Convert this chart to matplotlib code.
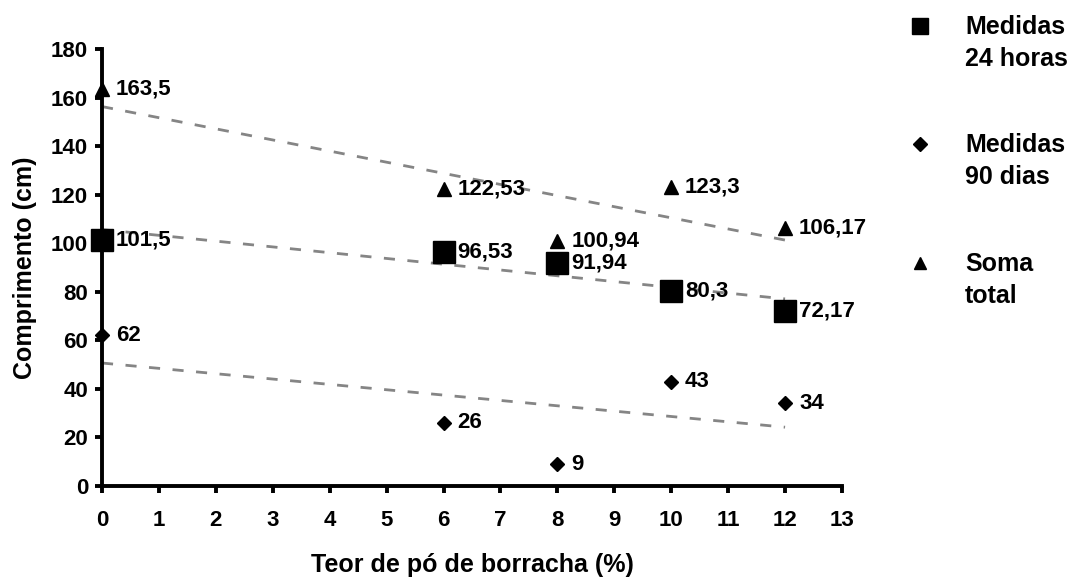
import matplotlib
matplotlib.use("Agg")
import matplotlib.pyplot as plt
import numpy as np
from matplotlib.lines import Line2D

plt.rcParams['font.family'] = ['Liberation Sans', 'DejaVu Sans']
plt.rcParams['font.weight'] = 'bold'

x_vals = [0, 6, 8, 10, 12]
medidas_24h = [101.5, 96.53, 91.94, 80.3, 72.17]
medidas_90d = [62, 26, 9, 43, 34]
soma_total = [163.5, 122.53, 100.94, 123.3, 106.17]

labels_24h = ["101,5", "96,53", "91,94", "80,3", "72,17"]
labels_90d = ["62", "26", "9", "43", "34"]
labels_soma = ["163,5", "122,53", "100,94", "123,3", "106,17"]

legend_names = ["Medidas\n24 horas", "Medidas\n90 dias", "Soma\ntotal"]

x_ticks = list(range(0, 14))
y_ticks = list(range(0, 181, 20))

W, H = 1067, 583
fig = plt.figure(figsize=(W / 100, H / 100), dpi=100)
ax = fig.add_axes([102 / W, 1 - 486 / H, (842 - 102) / W, (486 - 49) / H])

series = [
    (medidas_24h, labels_24h, 's', 16),
    (medidas_90d, labels_90d, 'D', 7.5),
    (soma_total, labels_soma, '^', 10),
]

xa = np.array(x_vals, dtype=float)
for vals, labs, mk, ms in series:
    ya = np.array(vals, dtype=float)
    k, b = np.polyfit(xa, ya, 1)
    xx = np.array([xa.min(), xa.max()])
    ax.plot(xx, k * xx + b, linestyle=(0, (4, 4.5)), color='#858585', lw=2,
            zorder=1, clip_on=False)
    ax.plot(xa, ya, linestyle='none', marker=mk, markersize=ms, color='black',
            zorder=3, clip_on=False)
    for xv, yv, t in zip(xa, ya, labs):
        ax.annotate(t, (xv, yv), xytext=(10, 0), textcoords='offset points',
                    ha='left', va='center', fontsize=16, fontweight='bold',
                    annotation_clip=False)

ax.set_xlim(0, 13)
ax.set_ylim(0, 180)
ax.set_xticks(x_ticks)
ax.set_yticks(y_ticks)
for s in ['top', 'right']:
    ax.spines[s].set_visible(False)
for s in ['left', 'bottom']:
    ax.spines[s].set_linewidth(2.8)
ax.tick_params(axis='both', width=2.8, length=5, labelsize=16, direction='out')
ax.tick_params(axis='x', pad=12)
ax.tick_params(axis='y', pad=5)
for lab in ax.get_xticklabels() + ax.get_yticklabels():
    lab.set_fontweight('bold')
ax.set_xlabel("Teor de pó de borracha (%)", fontsize=18, fontweight='bold', labelpad=16)
ax.set_ylabel("Comprimento (cm)", fontsize=18, fontweight='bold', labelpad=10)
ax.patch.set_alpha(0)

# legend drawn manually
leg_base = [34, 152, 271]
leg_markers = [('s', 11), ('D', 7.5), ('^', 9)]
for name, yb, (mk, ms) in zip(legend_names, leg_base, leg_markers):
    fig.add_artist(Line2D([920 / W], [1 - (yb - 8) / H], marker=mk, markersize=ms,
                          color='black', linestyle='none', transform=fig.transFigure))
    for i, line in enumerate(name.split('\n')):
        fig.text(965 / W, 1 - (yb + 32 * i) / H, line, ha='left', va='baseline',
                 fontsize=18, fontweight='bold')

fig.savefig("out.png", dpi=100)
